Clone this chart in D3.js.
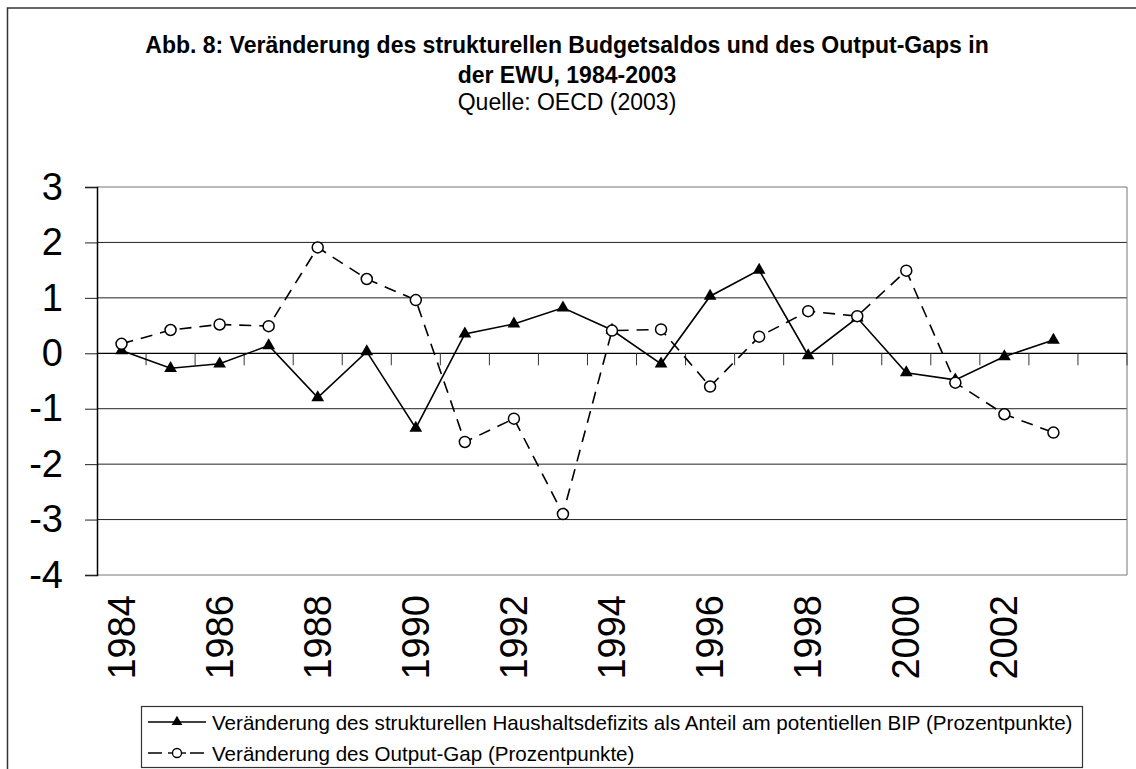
<!DOCTYPE html>
<html>
<head>
<meta charset="utf-8">
<script src="https://cdn.jsdelivr.net/npm/d3@7"></script>
<style>
  body { margin: 0; background: #fff; }
  svg { font-family: "Liberation Sans", Arial, sans-serif; }
</style>
</head>
<body>
<svg width="1136" height="769"></svg>
<script>
const years = d3.range(1984, 2005).map(String);   // 21 slots, last one stays empty
const yearLabels = ["1984", "1986", "1988", "1990", "1992", "1994", "1996", "1998", "2000", "2002"];
const budget = [0.05, -0.27, -0.19, 0.14, -0.80, 0.03, -1.35, 0.35, 0.53, 0.82,
                0.42, -0.19, 1.03, 1.50, -0.04, 0.64, -0.35, -0.48, -0.06, 0.24];
const outputGap = [0.17, 0.42, 0.52, 0.49, 1.91, 1.34, 0.96, -1.60, -1.18, -2.90,
                   0.41, 0.43, -0.60, 0.30, 0.76, 0.67, 1.49, -0.53, -1.10, -1.43];
const yTicks = [-4, -3, -2, -1, 0, 1, 2, 3];

const svg = d3.select("svg");

// outer frame (right and bottom sides run off the picture)
svg.append("path")
    .attr("d", "M7.5,775 L7.5,8 L1140,8")
    .attr("fill", "none").attr("stroke", "#333").attr("stroke-width", 1.5);

// titles
svg.append("text").attr("x", 567).attr("y", 53).attr("text-anchor", "middle")
    .attr("font-size", 23).attr("font-weight", "bold")
    .text("Abb. 8: Veränderung des strukturellen Budgetsaldos und des Output-Gaps in");
svg.append("text").attr("x", 567).attr("y", 83).attr("text-anchor", "middle")
    .attr("font-size", 23).attr("font-weight", "bold")
    .text("der EWU, 1984-2003");
svg.append("text").attr("x", 567).attr("y", 110).attr("text-anchor", "middle")
    .attr("font-size", 23)
    .text("Quelle: OECD (2003)");

const plot = { left: 97, right: 1127, top: 187, bottom: 575 };

const x = d3.scaleBand().domain(years).range([plot.left, plot.right]);
const y = d3.scaleLinear().domain([-4, 3]).range([plot.bottom, plot.top]);

const g = svg.append("g");

// gridlines
g.selectAll(".grid")
    .data(yTicks.filter(d => d !== 0))
    .enter().append("line")
    .attr("x1", plot.left).attr("x2", plot.right)
    .attr("y1", d => y(d)).attr("y2", d => y(d))
    .attr("stroke", d => (d === 3 || d === -4) ? "#777" : "#222")
    .attr("stroke-width", 1);

// right border
g.append("line")
    .attr("x1", plot.right).attr("x2", plot.right)
    .attr("y1", plot.top).attr("y2", plot.bottom)
    .attr("stroke", "#777");

// y axis
const yAxis = g.append("g")
    .attr("transform", `translate(${plot.left},0)`)
    .call(d3.axisLeft(y).tickValues(yTicks).tickSize(12).tickPadding(22).tickFormat(d3.format("d")));
yAxis.select(".domain").attr("stroke", "#000").attr("stroke-width", 1.5);
yAxis.selectAll(".tick line").attr("stroke", "#222");
yAxis.selectAll("text").attr("font-size", 38).attr("fill", "#000")
    .attr("font-family", "Liberation Sans, Arial, sans-serif")
    .text(d => d < 0 ? "-" + Math.abs(d) : d);

// x axis at zero with boundary ticks
const y0 = y(0);
g.append("line")
    .attr("x1", plot.left).attr("x2", plot.right)
    .attr("y1", y0).attr("y2", y0)
    .attr("stroke", "#000").attr("stroke-width", 1.2);
g.selectAll(".xtick")
    .data(years.slice(1).concat(["end"]))
    .enter().append("line")
    .attr("x1", d => d === "end" ? plot.right : x(d))
    .attr("x2", d => d === "end" ? plot.right : x(d))
    .attr("y1", y0).attr("y2", y0 + 12)
    .attr("stroke", "#333");

// x labels, rotated
g.selectAll(".xlabel")
    .data(yearLabels)
    .enter().append("text")
    .attr("transform", d => `translate(${x(d) + x.bandwidth() / 2 + 13},${plot.bottom + 20}) rotate(-90)`)
    .attr("text-anchor", "end")
    .attr("font-size", 38)
    .text(d => d);

const cx = (d, i) => x(years[i]) + x.bandwidth() / 2;

// output gap, dashed with circles
g.append("path")
    .datum(outputGap)
    .attr("fill", "none")
    .attr("stroke", "#000").attr("stroke-width", 1.6)
    .attr("stroke-dasharray", "12,8")
    .attr("d", d3.line().x(cx).y(d => y(d)));

// budget, solid with triangles
g.append("path")
    .datum(budget)
    .attr("fill", "none")
    .attr("stroke", "#000").attr("stroke-width", 1.6)
    .attr("d", d3.line().x(cx).y(d => y(d)));

const tri = d3.symbol().type(d3.symbolTriangle).size(70);

g.selectAll(".tri")
    .data(budget)
    .enter().append("path")
    .attr("d", tri)
    .attr("transform", (d, i) => `translate(${cx(d, i)},${y(d)})`)
    .attr("fill", "#000");

g.selectAll(".circ")
    .data(outputGap)
    .enter().append("circle")
    .attr("cx", cx).attr("cy", d => y(d))
    .attr("r", 5.5)
    .attr("fill", "#fff").attr("stroke", "#000").attr("stroke-width", 1.5);

// legend
const leg = svg.append("g");
leg.append("rect")
    .attr("x", 141.5).attr("y", 706.5).attr("width", 941).attr("height", 61)
    .attr("fill", "#fff").attr("stroke", "#333").attr("stroke-width", 1.2);

const legItems = [
  { label: "Veränderung des strukturellen Haushaltsdefizits als Anteil am potentiellen BIP (Prozentpunkte)", dash: null, mark: "tri" },
  { label: "Veränderung des Output-Gap (Prozentpunkte)", dash: "14,28,14", mark: "circ" }
];
legItems.forEach((it, i) => {
  const ly = 722 + i * 31;
  leg.append("line")
      .attr("x1", 148).attr("x2", 206).attr("y1", ly).attr("y2", ly)
      .attr("stroke", "#000").attr("stroke-width", 1.4)
      .attr("stroke-dasharray", it.dash);
  if (it.mark === "tri") {
    leg.append("path").attr("d", d3.symbol().type(d3.symbolTriangle).size(50))
        .attr("transform", `translate(177,${ly})`).attr("fill", "#000");
  } else {
    leg.append("line")
        .attr("x1", 168).attr("x2", 186).attr("y1", ly).attr("y2", ly)
        .attr("stroke", "#000").attr("stroke-width", 1.4);
    leg.append("circle").attr("cx", 177).attr("cy", ly).attr("r", 4.5)
        .attr("fill", "#fff").attr("stroke", "#000").attr("stroke-width", 1.3);
  }
  leg.append("text").attr("x", 212).attr("y", ly + 7.5)
      .attr("font-size", 20.6).text(it.label);
});
</script>
</body>
</html>
